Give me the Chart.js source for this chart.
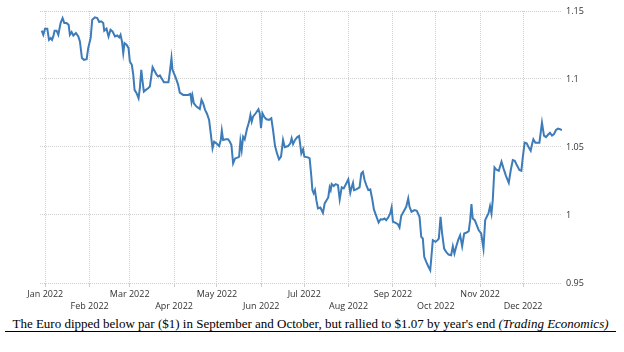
<!DOCTYPE html>
<html>
<head>
<meta charset="utf-8">
<script src="https://cdn.jsdelivr.net/npm/chart.js@4/dist/chart.umd.min.js"></script>
<style>
  html, body { margin: 0; padding: 0; background: #fff; }
  #wrap { position: relative; width: 624px; height: 352px; overflow: hidden; }
  #c { position: absolute; left: 0; top: 0; }
  #caption {
    position: absolute; left: 5px; top: 316px; width: 611px; height: 15px;
    border-bottom: 1.5px solid #000;
    font-family: "Liberation Serif", "Times New Roman", serif;
    font-size: 13px; line-height: 15px; color: #000; text-align: center; white-space: nowrap;
  }
</style>
</head>
<body>
<div id="wrap">
  <canvas id="c" width="624" height="316"></canvas>
  <div id="caption">The Euro dipped below par ($1) in September and October, but rallied to $1.07 by year's end <i>(Trading Economics)</i></div>
</div>
<script>
// Days since 1 Jan 2022
const dayOfYear = [
  -2.5, -1.4, -0.2, 1.4, 2.6, 3.8, 4.7, 5.6, 6.5, 7.9, 9.1, 10.7, 12.1, 13.3, 14.9, 16.3, 17.2, 18.4, 19.6, 21.4,
  23.1, 24.2, 25.6, 27.0, 28.9, 30.0, 31.7, 32.8, 34.7, 36.3, 37.7, 39.1, 40.5, 41.2, 42.8, 44.2, 45.6, 47.0, 48.7, 50.3,
  51.7, 52.6, 53.6, 54.5, 55.4, 56.8, 58.2, 59.1, 60.5, 61.5, 62.4, 63.8, 65.2, 66.1, 67.1, 68.0, 68.9, 70.3, 71.9, 73.1,
  75.0, 76.6, 77.8, 78.9, 80.1, 81.5, 82.9, 84.7, 86.1, 87.1, 88.2, 88.9, 91.3, 92.9, 94.0, 96.4, 98.7, 99.9, 101.5, 102.2,
  102.9, 103.8, 105.7, 108.0, 109.2, 110.3, 111.7, 113.1, 114.5, 115.5, 116.9, 118.0, 119.6, 121.5, 122.7, 123.4, 124.3, 126.2, 127.8, 129.0,
  130.1, 131.3, 132.7, 134.8, 135.5, 136.4, 137.3, 138.3, 139.4, 141.1, 142.5, 143.4, 144.3, 145.2, 147.1, 149.0, 149.9, 150.8, 151.8, 153.2,
  154.6, 156.4, 158.0, 159.2, 160.6, 162.0, 163.4, 164.8, 166.2, 167.4, 169.7, 171.3, 172.2, 173.2, 174.6, 176.0, 177.4, 179.0, 180.2, 181.1,
  183.6, 184.8, 186.0, 186.7, 187.6, 188.5, 189.5, 190.6, 192.3, 193.2, 194.1, 195.3, 196.4, 197.8, 198.8, 199.5, 200.2, 201.6, 203.0, 204.6,
  205.8, 207.2, 208.6, 210.4, 211.8, 213.2, 214.1, 215.1, 215.8, 217.4, 219.7, 220.9, 222.0, 223.2, 224.4, 225.8, 227.2, 228.6, 229.7, 231.4,
  233.0, 234.4, 236.0, 237.2, 238.3, 239.7, 241.1, 242.1, 243.0, 244.9, 246.5, 247.6, 248.8, 250.4, 252.3, 253.7, 254.6, 256.0, 258.1, 259.7,
  261.6, 262.8, 263.9, 264.9, 266.3, 267.7, 269.1, 270.0, 270.9, 272.8, 274.2, 275.1, 276.3, 277.4, 278.8, 280.2, 281.9, 283.7, 284.9, 286.0,
  287.2, 288.6, 290.0, 291.4, 292.8, 294.2, 296.0, 297.0, 297.9, 298.8, 300.2, 301.6, 303.0, 304.7, 306.3, 307.5, 308.6, 309.8, 310.9, 311.9,
  312.8, 314.0, 315.1, 317.0, 318.9, 320.3, 322.1, 324.0, 325.4, 326.8, 328.2, 329.6, 331.4, 332.8, 333.7, 335.1, 336.5, 337.9, 339.3, 340.3,
  341.2, 342.6, 344.0, 345.4, 347.2, 348.6, 350.0, 351.4, 352.8, 354.2, 355.6, 357.0, 358.4, 359.8, 361.2
];
// EUR/USD close
const eurUsd = [
  1.1355, 1.1325, 1.1370, 1.1370, 1.1288, 1.1301, 1.1288, 1.1313, 1.1355, 1.1355, 1.1325, 1.1411, 1.1448, 1.1411, 1.1411, 1.1399, 1.1325, 1.1345, 1.1320, 1.1338,
  1.1313, 1.1276, 1.1154, 1.1141, 1.1146, 1.1227, 1.1301, 1.1436, 1.1453, 1.1448, 1.1419, 1.1424, 1.1411, 1.1355, 1.1370, 1.1313, 1.1362, 1.1350, 1.1313, 1.1320,
  1.1306, 1.1325, 1.1276, 1.1190, 1.1264, 1.1252, 1.1227, 1.1129, 1.1104, 1.1031, 1.0920, 1.0896, 1.0859, 1.0932, 1.1068, 1.0982, 1.0908, 1.0920, 1.0932, 1.0945,
  1.1087, 1.1055, 1.1031, 1.1018, 1.1026, 1.1001, 1.0977, 1.0977, 1.0977, 1.1055, 1.1154, 1.1068, 1.1006, 1.0957, 1.0900, 1.0883, 1.0883, 1.0883, 1.0891, 1.0834,
  1.0876, 1.0822, 1.0797, 1.0780, 1.0847, 1.0822, 1.0773, 1.0743, 1.0699, 1.0613, 1.0490, 1.0539, 1.0527, 1.0507, 1.0552, 1.0620, 1.0552, 1.0557, 1.0557, 1.0539,
  1.0515, 1.0380, 1.0416, 1.0424, 1.0429, 1.0544, 1.0478, 1.0576, 1.0557, 1.0638, 1.0687, 1.0736, 1.0687, 1.0723, 1.0748, 1.0778, 1.0748, 1.0638, 1.0748, 1.0719,
  1.0704, 1.0699, 1.0711, 1.0625, 1.0507, 1.0453, 1.0409, 1.0429, 1.0552, 1.0498, 1.0507, 1.0527, 1.0564, 1.0522, 1.0552, 1.0571, 1.0581, 1.0453, 1.0483, 1.0429,
  1.0424, 1.0416, 1.0281, 1.0183, 1.0159, 1.0183, 1.0109, 1.0048, 1.0055, 1.0035, 1.0016, 1.0085, 1.0105, 1.0129, 1.0203, 1.0183, 1.0227, 1.0213, 1.0227, 1.0220,
  1.0114, 1.0203, 1.0195, 1.0232, 1.0262, 1.0163, 1.0203, 1.0237, 1.0183, 1.0188, 1.0203, 1.0306, 1.0318, 1.0257, 1.0220, 1.0183, 1.0188, 1.0114, 1.0041, 0.9992,
  0.9945, 0.9969, 0.9967, 0.9974, 0.9962, 0.9981, 1.0011, 1.0055, 0.9950, 0.9942, 0.9932, 0.9908, 0.9992, 1.0024, 1.0060, 1.0122, 1.0060, 1.0024, 1.0036, 1.0031,
  0.9987, 0.9839, 0.9827, 0.9692, 0.9655, 0.9623, 0.9594, 0.9704, 0.9815, 0.9803, 0.9815, 0.9827, 0.9987, 0.9864, 0.9753, 0.9729, 0.9709, 0.9704, 0.9770, 0.9716,
  0.9766, 0.9815, 0.9851, 0.9770, 0.9864, 0.9869, 0.9881, 0.9962, 1.0080, 0.9974, 0.9962, 0.9925, 0.9888, 0.9864, 0.9753, 0.9962, 0.9987, 1.0011, 1.0065, 1.0011,
  1.0109, 1.0350, 1.0335, 1.0325, 1.0392, 1.0343, 1.0286, 1.0237, 1.0331, 1.0404, 1.0399, 1.0367, 1.0331, 1.0325, 1.0417, 1.0532, 1.0527, 1.0498, 1.0473, 1.0522,
  1.0557, 1.0532, 1.0532, 1.0532, 1.0679, 1.0584, 1.0573, 1.0590, 1.0605, 1.0584, 1.0595, 1.0625, 1.0635, 1.0630, 1.0625
];
const monthStartDays = [0, 31, 59, 90, 120, 151, 181, 212, 243, 273, 304, 334];
const monthLabels = ['Jan 2022', 'Feb 2022', 'Mar 2022', 'Apr 2022', 'May 2022', 'Jun 2022',
                     'Jul 2022', 'Aug 2022', 'Sep 2022', 'Oct 2022', 'Nov 2022', 'Dec 2022'];
const yTickValues = [0.95, 1, 1.05, 1.1, 1.15];
const yTickLabels = ['0.95', '1', '1.05', '1.1', '1.15'];

const points = dayOfYear.map((d, i) => ({ x: d, y: eurUsd[i] }));
const gridColor = '#cfcfcf';
const tickFont = { family: '"Open Sans", "DejaVu Sans", sans-serif', size: 9 };

new Chart(document.getElementById('c'), {
  type: 'line',
  data: {
    datasets: [{
      data: points,
      borderColor: '#3d7cb9',
      borderWidth: 2,
      pointRadius: 0,
      tension: 0,
      fill: false
    }]
  },
  options: {
    responsive: false,
    animation: false,
    parsing: false,
    layout: { padding: { left: 40, right: 22, top: 11, bottom: 3 } },
    plugins: { legend: { display: false }, tooltip: { enabled: false } },
    scales: {
      x: {
        type: 'linear',
        min: -3.7,
        max: 361.2,
        afterBuildTicks: (scale) => { scale.ticks = monthStartDays.map(v => ({ value: v })); },
        afterFit: (scale) => { scale.height = 30; },
        border: { display: false, dash: [1, 1] },
        grid: { color: gridColor, lineWidth: 1, tickLength: 4, drawTicks: true, tickBorderDash: [] },
        ticks: {
          autoSkip: false,
          maxRotation: 0,
          padding: 1,
          color: '#333',
          font: { ...tickFont, lineHeight: 1.4 },
          callback: (value, index) => index % 2 === 0 ? monthLabels[index] : ['', monthLabels[index]]
        }
      },
      y: {
        position: 'right',
        min: 0.95,
        max: 1.15,
        afterBuildTicks: (scale) => { scale.ticks = yTickValues.map(v => ({ value: v })); },
        afterFit: (scale) => { scale.width = 40; },
        border: { display: false, dash: [1, 1] },
        grid: { color: gridColor, lineWidth: 1, drawTicks: false },
        ticks: {
          padding: 4,
          color: '#333',
          font: tickFont,
          callback: (value, index) => yTickLabels[index]
        }
      }
    }
  }
});
</script>
</body>
</html>
